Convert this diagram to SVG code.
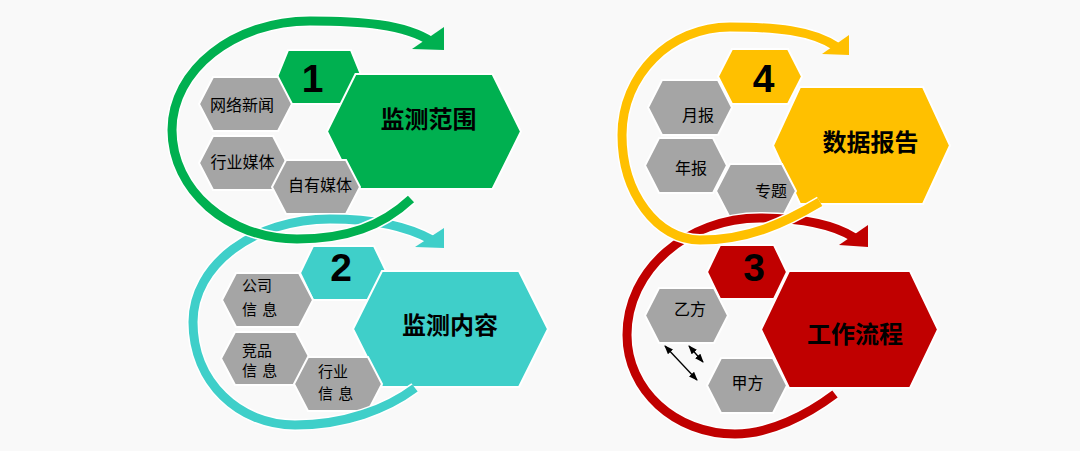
<svg xmlns="http://www.w3.org/2000/svg" width="1080" height="451" viewBox="0 0 1080 451">
<defs>
<style>
.hx{stroke:#ffffff;stroke-width:2;stroke-linejoin:miter}
.g{fill:#00b050}.t{fill:#3fcfc9}.y{fill:#ffc000}.r{fill:#c00000}.gr{fill:#a5a5a5}
.num{font-family:"Liberation Sans",Arial,sans-serif;font-weight:bold;font-size:39px;fill:#000;text-anchor:middle}
.big{font-family:"Noto Sans CJK SC","Noto Sans",sans-serif;font-weight:bold;font-size:24px;fill:#000;text-anchor:middle}
.sm{font-family:"Noto Sans CJK SC","Noto Sans",sans-serif;font-size:16px;fill:#000;text-anchor:middle}
.sm2{font-family:"Noto Sans CJK SC","Noto Sans",sans-serif;font-size:15px;fill:#000;word-spacing:2px}
.halo{fill:none;stroke:#ffffff;stroke-width:12}
.arc{fill:none;stroke-width:9}
.dbl{stroke:#000;stroke-width:1.3;fill:none;marker-start:url(#ah);marker-end:url(#ah)}
</style>
<marker id="ah" markerUnits="userSpaceOnUse" markerWidth="9" markerHeight="7" refX="8" refY="3.5" orient="auto-start-reverse">
<path d="M0,0 L9,3.5 L0,7 Z" fill="#000"/>
</marker>
</defs>
<rect x="0" y="0" width="1080" height="451" fill="#f9f9f9"/>

<!-- Group 2 -->
<g id="n2-num"><polygon class="hx t" points="300,273 313,246 374,246 387,273 374,300 313,300"/><text class="num" x="341" y="281">2</text></g>
<g id="n2-main"><polygon class="hx t" points="353,329 382,271 519,271 548,329 519,387 382,387"/><text class="big" x="450" y="334">监测内容</text></g>
<g id="n2-company"><polygon class="hx gr" points="222,300 236,273 299,273 313,300 299,327 236,327"/><text class="sm2" x="242" y="291">公司</text><text class="sm2" x="242" y="314.5">信 息</text></g>
<g id="n2-competitor"><polygon class="hx gr" points="221,358.5 235,332 296,332 310,358.5 296,385 235,385"/><text class="sm2" x="242" y="355.5">竞品</text><text class="sm2" x="242" y="376">信 息</text></g>
<g id="n2-industry"><polygon class="hx gr" points="294,384 308,357 368,357 382,384 368,411 308,411"/><text class="sm2" x="318" y="376.5">行业</text><text class="sm2" x="318" y="398.5">信 息</text></g>

<!-- Group 1 -->
<g id="n1-num"><polygon class="hx g" points="277,77 288,50 351,50 362,77 351,104 288,104"/><text class="num" x="312.5" y="92">1</text></g>
<g id="n1-main"><polygon class="hx g" points="327,131.5 355.5,74 492.5,74 521,131.5 492.5,189 355.5,189"/><text class="big" x="428.5" y="127.5">监测范围</text></g>
<g id="n1-news"><polygon class="hx gr" points="199,104 213,77 278,77 292,104 278,131 213,131"/><text class="sm" x="242" y="110.5">网络新闻</text></g>
<g id="n1-industry"><polygon class="hx gr" points="199,163 213,136 273,136 287,163 273,190 213,190"/><text class="sm" x="242.5" y="167.5">行业媒体</text></g>
<g id="n1-own"><polygon class="hx gr" points="272,187 286,160 346,160 360,187 346,214 286,214"/><text class="sm" x="320" y="190.5">自有媒体</text></g>

<!-- Group 3 -->
<g id="n3-num"><polygon class="hx r" points="707,272 720,245 774,245 787,272 774,299 720,299"/><text class="num" x="754" y="281">3</text></g>
<g id="n3-main"><polygon class="hx r" points="761,329.5 789,271 910,271 938,329.5 910,388 789,388"/><text class="big" x="855" y="343">工作流程</text></g>
<g id="n3-partyb"><polygon class="hx gr" points="645,315.5 659,288 714,288 728,315.5 714,343 659,343"/><text class="sm" x="690" y="315">乙方</text></g>
<g id="n3-partya"><polygon class="hx gr" points="707,385.5 721,358 773,358 787,385.5 773,413 721,413"/><text class="sm" x="747.5" y="388.5">甲方</text></g>

<!-- Group 4 -->
<g id="n4-num"><polygon class="hx y" points="718,76.5 732,49 788,49 802,76.5 788,104 732,104"/><text class="num" x="763.5" y="92">4</text></g>
<g id="n4-main"><polygon class="hx y" points="773,145.5 800,87 923,87 950,145.5 923,204 800,204"/><text class="big" x="870.5" y="151">数据报告</text></g>
<g id="n4-monthly"><polygon class="hx gr" points="648,107.5 662,80 718,80 732,107.5 718,135 662,135"/><text class="sm" x="698" y="120.5">月报</text></g>
<g id="n4-annual"><polygon class="hx gr" points="645,165.5 659,138 713,138 727,165.5 713,193 659,193"/><text class="sm" x="691" y="174">年报</text></g>
<g id="n4-special"><polygon class="hx gr" points="716,191 730,164 782,164 796,191 782,218 730,218"/><text class="sm" x="771" y="197">专题</text></g>

<g id="connectors">
<path class="halo" d="M 415 388 C 387 409, 345 425, 295 425 C 239 425, 193 382, 193 322 C 193 265, 254 219, 330 219 C 370 219, 405 225, 432 240"/>
<path class="arc" stroke="#3fcfc9" d="M 415 388 C 387 409, 345 425, 295 425 C 239 425, 193 382, 193 322 C 193 265, 254 219, 330 219 C 370 219, 405 225, 432 240"/>
<polygon fill="#3fcfc9" points="444,228 444,248 415,247"/>

<path class="halo" d="M 411 199 C 382 226, 347 239, 297 239 C 228 239, 172 190, 172 130 C 172 70, 234 21, 310 21 C 360 21, 405 24, 432 42"/>
<path class="arc" stroke="#00b050" d="M 411 199 C 382 226, 347 239, 297 239 C 228 239, 172 190, 172 130 C 172 70, 234 21, 310 21 C 360 21, 405 24, 432 42"/>
<polygon fill="#00b050" points="444,27 444,50 412,49"/>

<path class="halo" d="M 835 394 C 807 415, 770 434, 735 434 C 675 434, 627 390, 627 335 C 627 270, 687 218, 760 218 C 795 218, 830 222, 855 238"/>
<path class="arc" stroke="#c00000" d="M 835 394 C 807 415, 770 434, 735 434 C 675 434, 627 390, 627 335 C 627 270, 687 218, 760 218 C 795 218, 830 222, 855 238"/>
<polygon fill="#c00000" points="868,225 868,247 839,245"/>

<path class="halo" d="M 820 202 C 786 222, 750 240, 700 240 C 657 240, 622 193, 622 135 C 622 75, 670 27, 730 27 C 775 27, 812 30, 837 47"/>
<path class="arc" stroke="#ffc000" d="M 820 202 C 786 222, 750 240, 700 240 C 657 240, 622 193, 622 135 C 622 75, 670 27, 730 27 C 775 27, 812 30, 837 47"/>
<polygon fill="#ffc000" points="849,35 849,55 822,54"/>

<line class="dbl" x1="665" y1="346" x2="697" y2="380"/>
<line class="dbl" x1="689" y1="346" x2="703" y2="362"/>
</g>
</svg>
